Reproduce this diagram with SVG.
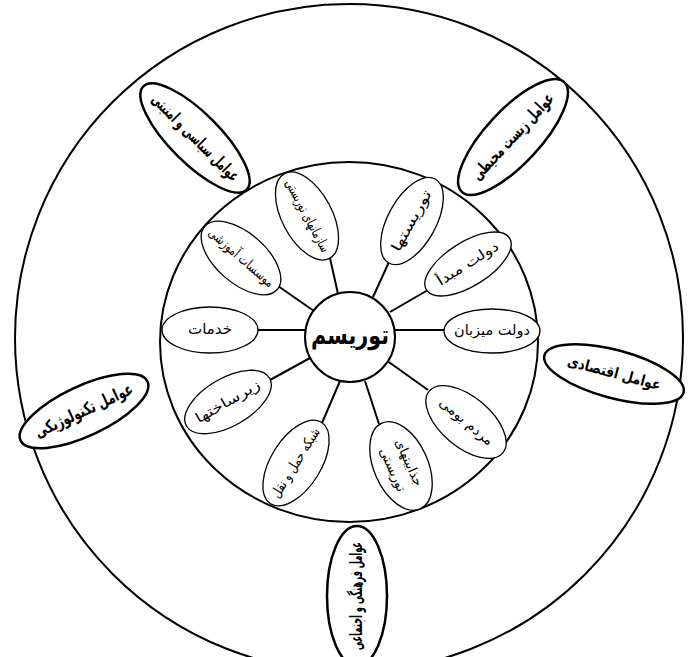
<svg xmlns="http://www.w3.org/2000/svg" width="694" height="657" viewBox="0 0 694 657">
<style>
.big{fill:none;stroke:#000;stroke-width:2}
.in{fill:#fff;stroke:#000;stroke-width:1.3}
.out{fill:#fff;stroke:#000;stroke-width:2.5}
.ln{stroke:#000;stroke-width:2;fill:none}
text{font-family:"DejaVu Sans",sans-serif;fill:#000;text-anchor:middle;dominant-baseline:central}
.t{font-size:14px}
.tb{font-size:17px;font-weight:bold}
.tc{font-size:26px;font-weight:bold}
</style>
<rect width="694" height="657" fill="#fff"/>
<circle class="big" cx="349" cy="338" r="334"/>
<ellipse class="big" cx="349" cy="342" rx="189" ry="180"/>
<g id="connectors">
<line class="ln" x1="258" y1="330" x2="306" y2="330"/>
<line class="ln" x1="394" y1="330" x2="445" y2="330"/>
<line class="ln" x1="390" y1="312" x2="428" y2="290"/>
<line class="ln" x1="373" y1="297" x2="389" y2="262"/>
<line class="ln" x1="330" y1="258" x2="338" y2="294"/>
<line class="ln" x1="278" y1="286" x2="314" y2="311"/>
<line class="ln" x1="270" y1="380" x2="310" y2="358"/>
<line class="ln" x1="340" y1="381" x2="322" y2="423"/>
<line class="ln" x1="365" y1="381" x2="379" y2="424"/>
<line class="ln" x1="386" y1="360" x2="428" y2="390"/>
</g>
<g id="tourism"><circle cx="350" cy="337" r="45" fill="#fff" stroke="#000" stroke-width="2"/><text class="tc" x="350" y="335" textLength="78" lengthAdjust="spacingAndGlyphs">توریسم</text></g>
<g id="khadamat"><ellipse class="in" cx="210" cy="330" rx="48" ry="23"/><text class="t" x="210" y="329" style="font-size:15px">خدمات</text></g>
<g id="dolat-mizban"><ellipse class="in" cx="492" cy="331" rx="48" ry="22"/><text class="t" x="492" y="330" textLength="76" lengthAdjust="spacingAndGlyphs">دولت میزبان</text></g>
<g id="dolat-mabda" transform="translate(468,264) rotate(-32)"><ellipse class="in" rx="49" ry="22"/><text class="t" y="-1" textLength="70" lengthAdjust="spacingAndGlyphs">دولت مبدأ</text></g>
<g id="touristha" transform="translate(412,221) rotate(-61)"><ellipse class="in" rx="48" ry="24"/><text class="t" y="-1" textLength="68" lengthAdjust="spacingAndGlyphs">توریستها</text></g>
<g id="sazmanha" transform="translate(307,216) rotate(62)"><ellipse class="in" rx="48" ry="25"/><text class="t" y="-1" textLength="80" lengthAdjust="spacingAndGlyphs">سازمانهای توریستی</text></g>
<g id="moasesat" transform="translate(241,258) rotate(41)"><ellipse class="in" rx="48" ry="25"/><text class="t" y="-1" textLength="82" lengthAdjust="spacingAndGlyphs">موسسات آموزشی</text></g>
<g id="zirsakht" transform="translate(228,402) rotate(-30)"><ellipse class="in" rx="48" ry="24"/><text class="t" y="-1" textLength="72" lengthAdjust="spacingAndGlyphs">زیرساختها</text></g>
<g id="shabake" transform="translate(296,463) rotate(-58)"><ellipse class="in" rx="48" ry="25"/><text class="t" y="-1" textLength="80" lengthAdjust="spacingAndGlyphs">شبکه حمل و نقل</text></g>
<g id="jazebiat" transform="translate(401,466) rotate(66)"><ellipse class="in" rx="47" ry="27"/><text class="t" y="-9" style="font-size:13px">جذابیتهای</text><text class="t" y="9" style="font-size:13px">توریستی</text></g>
<g id="mardom" transform="translate(466,422) rotate(40)"><ellipse class="in" rx="48" ry="25"/><text class="t" y="-1" textLength="66" lengthAdjust="spacingAndGlyphs">مردم بومی</text></g>
<g id="siasi" transform="translate(195,138) rotate(45)"><ellipse class="out" rx="73" ry="25"/><text class="tb" y="-1" textLength="116" lengthAdjust="spacingAndGlyphs">عوامل سیاسی و امنیتی</text></g>
<g id="zist" transform="translate(513,137) rotate(-47)"><ellipse class="out" rx="75" ry="27"/><text class="tb" y="-1" textLength="112" lengthAdjust="spacingAndGlyphs">عوامل زیست محیطی</text></g>
<g id="eghtesadi" transform="translate(614,374) rotate(15)"><ellipse class="out" rx="72" ry="24"/><text class="tb" y="-1" style="font-size:15px" textLength="96" lengthAdjust="spacingAndGlyphs">عوامل اقتصادی</text></g>
<g id="technology" transform="translate(84,411) rotate(-25)"><ellipse class="out" rx="70" ry="25"/><text class="tb" y="-1" textLength="106" lengthAdjust="spacingAndGlyphs">عوامل تکنولوژیکی</text></g>
<g id="farhangi" transform="translate(357,596) rotate(-90)"><ellipse class="out" rx="70" ry="30"/><text class="tb" y="-1" textLength="108" lengthAdjust="spacingAndGlyphs">عوامل فرهنگی و اجتماعی</text></g>
</svg>
